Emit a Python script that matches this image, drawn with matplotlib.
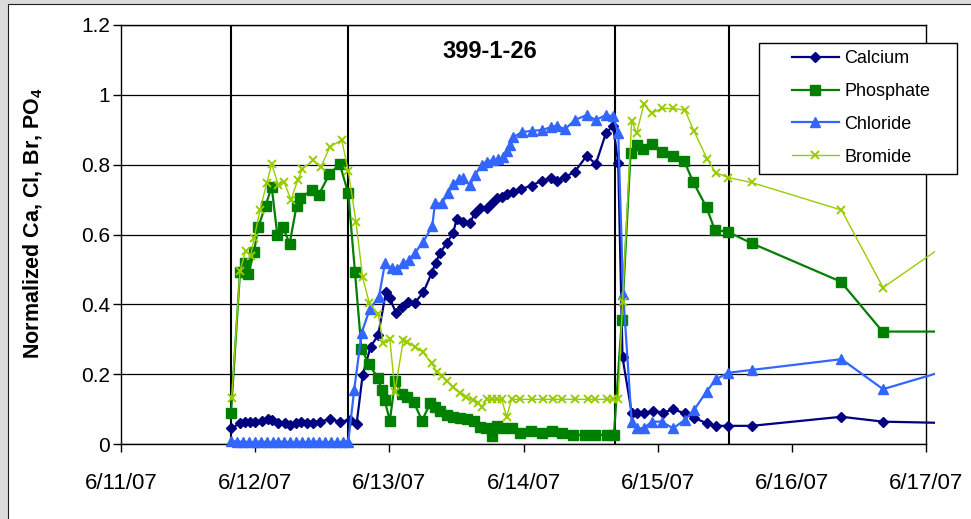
import datetime as dt

import matplotlib
matplotlib.use("Agg")
import matplotlib.pyplot as plt
import matplotlib.dates as mdates
from matplotlib.lines import Line2D
from matplotlib.patches import Rectangle

plt.rcParams['font.family'] = ['Liberation Sans', 'DejaVu Sans']
plt.rcParams['mathtext.fontset'] = 'custom'
plt.rcParams['mathtext.rm'] = 'Liberation Sans'
plt.rcParams['mathtext.bf'] = 'Liberation Sans:bold'

# ---- data: time in days after 6/11/07 00:00, normalized concentrations ----
START = dt.datetime(2007, 6, 11)

ca_days = [0.820, 0.887, 0.924, 0.961, 0.999, 1.048, 1.093, 1.127, 1.172, 1.222,
           1.259, 1.302, 1.339, 1.384, 1.433, 1.483, 1.557, 1.632, 1.706, 1.756,
           1.801, 1.861, 1.917, 1.975, 2.004, 2.049, 2.092, 2.141, 2.191, 2.253,
           2.315, 2.345, 2.377, 2.427, 2.476, 2.501, 2.551, 2.601, 2.638, 2.675,
           2.725, 2.762, 2.800, 2.837, 2.874, 2.919, 2.981, 3.060, 3.135, 3.202,
           3.251, 3.308, 3.383, 3.470, 3.539, 3.614, 3.668, 3.706, 3.738, 3.806,
           3.847, 3.897, 3.962, 4.041, 4.115, 4.203, 4.270, 4.369, 4.434, 4.525,
           4.700, 5.370, 5.680, 6.550]
ca_vals = [0.045, 0.059, 0.064, 0.064, 0.064, 0.066, 0.071, 0.069, 0.059, 0.059,
           0.054, 0.059, 0.064, 0.059, 0.059, 0.064, 0.071, 0.064, 0.069, 0.057,
           0.198, 0.279, 0.312, 0.436, 0.417, 0.376, 0.393, 0.408, 0.405, 0.434,
           0.489, 0.519, 0.546, 0.575, 0.605, 0.643, 0.637, 0.634, 0.661, 0.675,
           0.677, 0.689, 0.705, 0.706, 0.715, 0.723, 0.730, 0.740, 0.754, 0.761,
           0.754, 0.764, 0.780, 0.825, 0.802, 0.890, 0.912, 0.804, 0.248, 0.090,
           0.090, 0.090, 0.094, 0.090, 0.099, 0.088, 0.075, 0.059, 0.052, 0.052,
           0.052, 0.078, 0.064, 0.057]

po4_days = [0.820, 0.887, 0.924, 0.949, 0.991, 1.023, 1.078, 1.123, 1.165, 1.205,
            1.257, 1.309, 1.334, 1.421, 1.473, 1.552, 1.630, 1.694, 1.744, 1.792,
            1.848, 1.913, 1.943, 1.965, 2.004, 2.042, 2.098, 2.135, 2.181, 2.244,
            2.305, 2.340, 2.377, 2.427, 2.476, 2.526, 2.580, 2.630, 2.675, 2.720,
            2.762, 2.800, 2.849, 2.911, 2.973, 3.053, 3.135, 3.209, 3.284, 3.370,
            3.458, 3.532, 3.619, 3.674, 3.733, 3.798, 3.843, 3.887, 3.955, 4.029,
            4.111, 4.197, 4.264, 4.364, 4.426, 4.521, 4.700, 5.365, 5.676, 6.550]
po4_vals = [0.090, 0.493, 0.517, 0.486, 0.549, 0.622, 0.683, 0.737, 0.599, 0.622,
            0.574, 0.683, 0.704, 0.727, 0.713, 0.772, 0.802, 0.718, 0.492, 0.272,
            0.229, 0.190, 0.155, 0.125, 0.067, 0.179, 0.143, 0.136, 0.121, 0.067,
            0.117, 0.105, 0.095, 0.083, 0.076, 0.074, 0.071, 0.067, 0.050, 0.045,
            0.023, 0.052, 0.047, 0.047, 0.031, 0.037, 0.032, 0.037, 0.031, 0.026,
            0.026, 0.026, 0.026, 0.026, 0.356, 0.834, 0.856, 0.845, 0.858, 0.835,
            0.825, 0.811, 0.751, 0.678, 0.613, 0.608, 0.575, 0.465, 0.322, 0.322]

cl_days = [0.817, 0.862, 0.911, 0.956, 0.999, 1.043, 1.086, 1.130, 1.172, 1.217,
           1.259, 1.304, 1.347, 1.391, 1.433, 1.478, 1.520, 1.565, 1.607, 1.652,
           1.694, 1.738, 1.794, 1.855, 1.923, 1.967, 2.017, 2.054, 2.104, 2.146,
           2.191, 2.253, 2.320, 2.340, 2.390, 2.439, 2.476, 2.521, 2.551, 2.601,
           2.638, 2.688, 2.725, 2.770, 2.811, 2.849, 2.874, 2.899, 2.923, 2.986,
           3.060, 3.135, 3.202, 3.251, 3.308, 3.383, 3.470, 3.539, 3.614, 3.668,
           3.706, 3.743, 3.806, 3.843, 3.897, 3.955, 4.029, 4.115, 4.203, 4.270,
           4.364, 4.434, 4.525, 4.700, 5.370, 5.680, 6.550]
cl_vals = [0.010, 0.006, 0.007, 0.005, 0.006, 0.007, 0.006, 0.005, 0.006, 0.007,
           0.005, 0.006, 0.006, 0.005, 0.006, 0.007, 0.005, 0.006, 0.005, 0.006,
           0.007, 0.155, 0.319, 0.387, 0.422, 0.517, 0.503, 0.501, 0.517, 0.527,
           0.548, 0.579, 0.624, 0.689, 0.689, 0.718, 0.745, 0.758, 0.761, 0.742,
           0.770, 0.799, 0.809, 0.813, 0.815, 0.821, 0.840, 0.856, 0.878, 0.893,
           0.897, 0.899, 0.907, 0.912, 0.901, 0.928, 0.942, 0.928, 0.942, 0.939,
           0.890, 0.431, 0.064, 0.045, 0.045, 0.064, 0.064, 0.045, 0.069, 0.097,
           0.150, 0.185, 0.204, 0.212, 0.243, 0.157, 0.256]

br_days = [0.825, 0.887, 0.929, 0.966, 0.993, 1.036, 1.086, 1.123, 1.172, 1.215,
           1.267, 1.317, 1.351, 1.433, 1.488, 1.557, 1.645, 1.694, 1.751, 1.801,
           1.850, 1.917, 1.955, 2.004, 2.042, 2.104, 2.133, 2.191, 2.248, 2.315,
           2.352, 2.390, 2.427, 2.476, 2.526, 2.571, 2.621, 2.662, 2.688, 2.725,
           2.762, 2.800, 2.837, 2.874, 2.911, 2.973, 3.060, 3.147, 3.221, 3.284,
           3.383, 3.482, 3.532, 3.619, 3.668, 3.706, 3.738, 3.806, 3.843, 3.897,
           3.955, 4.029, 4.111, 4.203, 4.270, 4.369, 4.434, 4.525, 4.700, 5.370,
           5.680, 6.550]
br_vals = [0.133, 0.496, 0.553, 0.539, 0.591, 0.670, 0.747, 0.802, 0.742, 0.751,
           0.699, 0.756, 0.787, 0.813, 0.792, 0.851, 0.871, 0.782, 0.637, 0.477,
           0.405, 0.372, 0.288, 0.300, 0.150, 0.298, 0.293, 0.279, 0.264, 0.231,
           0.207, 0.195, 0.180, 0.164, 0.145, 0.134, 0.126, 0.117, 0.105, 0.128,
           0.128, 0.128, 0.128, 0.078, 0.128, 0.128, 0.128, 0.128, 0.128, 0.128,
           0.128, 0.128, 0.128, 0.128, 0.128, 0.128, 0.407, 0.926, 0.890, 0.973,
           0.947, 0.961, 0.961, 0.956, 0.897, 0.816, 0.777, 0.763, 0.749, 0.670,
           0.448, 0.680]

# vertical reference lines (days after 6/11/07 00:00)
event_days = [0.817, 1.689, 3.679, 4.528]

x_tick_labels = ['6/11/07', '6/12/07', '6/13/07', '6/14/07',
                 '6/15/07', '6/16/07', '6/17/07']
y_ticks = [0, 0.2, 0.4, 0.6, 0.8, 1.0, 1.2]
y_tick_labels = ['0', '0.2', '0.4', '0.6', '0.8', '1', '1.2']

title = '399-1-26'
y_label = r'Normalized Ca, Cl, Br, PO$_\mathbf{4}$'

BASE = mdates.date2num(START)


def to_dates(days):
    return [BASE + d for d in days]


W, H = 971, 519
fig = plt.figure(figsize=(W / 100, H / 100), dpi=100)
fig.patch.set_facecolor('#dcdcdc')

# white chart area with a thin dark frame
fig.patches.append(Rectangle((8 / W, -0.1), 1.2, 1.1 - 4 / H,
                             transform=fig.transFigure, facecolor='white',
                             edgecolor='#202020', lw=0.8, zorder=-1))

ax = fig.add_axes([121 / W, 75 / H, 805 / W, 419 / H])
ax.set_facecolor('white')

ax.set_xlim(BASE, BASE + 6)
ax.set_ylim(0, 1.2)
ax.set_xticks(to_dates(range(len(x_tick_labels))))
ax.set_xticklabels(x_tick_labels)
ax.set_yticks(y_ticks)
ax.set_yticklabels(y_tick_labels)
ax.tick_params(axis='x', direction='out', length=6, width=1, pad=15,
               labelsize=16, colors='black')
ax.tick_params(axis='y', direction='out', length=6, width=1, pad=2,
               labelsize=15, colors='black')
for sp in ax.spines.values():
    sp.set_color('black')
    sp.set_linewidth(1.0)

ax.grid(axis='y', color='black', lw=0.9, zorder=1)
ax.set_axisbelow(True)

for d in event_days:
    ax.axvline(BASE + d, color='black', lw=1.5, zorder=1.5)

series = [
    ('Calcium', ca_days, ca_vals, '#000080', 'D', 5.0, 1.6, 1.0),
    ('Phosphate', po4_days, po4_vals, '#008000', 's', 6.5, 1.6, 1.0),
    ('Chloride', cl_days, cl_vals, '#3366FF', '^', 7.5, 1.6, 1.0),
    ('Bromide', br_days, br_vals, '#99CC00', 'x', 6.0, 1.0, 1.4),
]

handles = []
for name, days, vals, color, marker, ms, lw, mew in series:
    line, = ax.plot(to_dates(days), vals, color=color, lw=lw, marker=marker,
                    ms=ms, mfc=color, mec=color, mew=mew, zorder=3)
    clip = Rectangle((0, -0.04), 1.011, 1.04, transform=ax.transAxes)
    line.set_clip_path(clip)
    handles.append(Line2D([], [], color=color, lw=lw, marker=marker, ms=ms,
                          mfc=color, mec=color, mew=mew))

# legend box
fig.patches.append(Rectangle((759 / W, 1 - 174 / H), 198 / W, 131 / H,
                             transform=fig.transFigure, facecolor='white',
                             edgecolor='black', lw=1.0, zorder=4))
fig.legend(handles, [s[0] for s in series], loc='upper left',
           bbox_to_anchor=(792 / W, 1 - 50 / H), frameon=False, fontsize=13,
           handlelength=2.6, handletextpad=0.3, labelspacing=0.88,
           borderpad=0, borderaxespad=0, numpoints=1).set_zorder(6)

fig.text(490 / W, 1 - 52 / H, title, ha='center', va='center',
         fontsize=17, fontweight='bold')
fig.text(33 / W, 1 - 223 / H, y_label, rotation=90, ha='center', va='center',
         fontsize=15.5, fontweight='bold')

fig.savefig('out.png', dpi=100, facecolor=fig.get_facecolor())
